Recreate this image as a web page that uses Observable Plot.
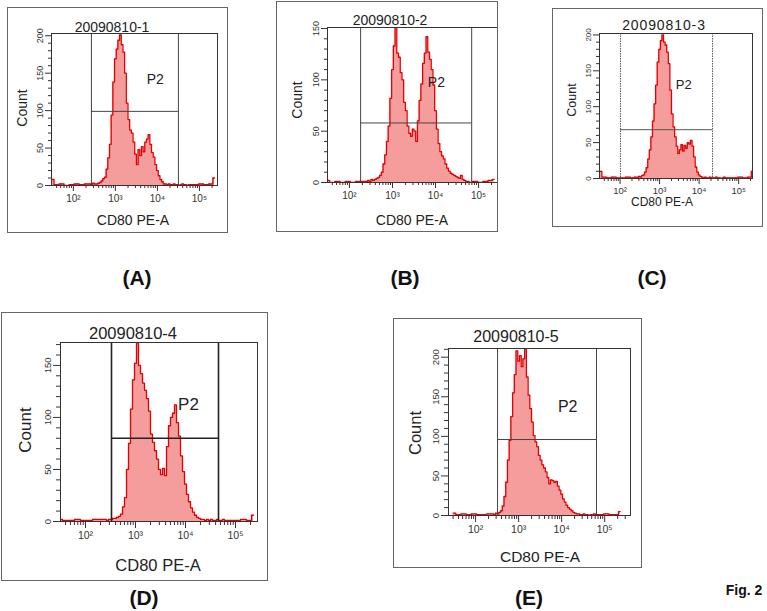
<!DOCTYPE html>
<html><head><meta charset="utf-8">
<script src="https://cdn.jsdelivr.net/npm/d3@7"></script>
<script src="https://cdn.jsdelivr.net/npm/@observablehq/plot@0.6"></script>
<style>
body{margin:0;width:767px;height:611px;position:relative;background:#fff;font-family:"Liberation Sans",Arial,sans-serif;overflow:hidden}
.box{position:absolute;box-sizing:border-box;border:1px solid #666}
.svgwrap{position:absolute}
.t{position:absolute;transform:translate(-50%,-50%);white-space:nowrap;color:#222;line-height:1}
.lbl{position:absolute;transform:translate(-50%,-50%);white-space:nowrap;font-weight:bold;color:#111;line-height:1}
</style></head><body>
<script>
// ---------- DATA ----------
// bin centres, log10 of CD80 PE-A intensity
const binExp = [1.48,1.60,1.72,1.84,1.96,2.08,2.20,2.32,
  2.40,2.44,2.48,2.52,2.56,2.60,2.64,2.68,2.72,2.76,
  2.80,2.84,2.88,2.92,2.96,3.00,3.04,3.08,3.12,3.16,
  3.20,3.24,3.28,3.32,3.36,3.40,3.44,3.48,3.52,3.56,
  3.60,3.64,3.68,3.72,3.76,3.80,3.84,3.88,3.92,3.96,
  4.00,4.04,4.08,4.12,4.16,4.20,4.24,4.28,4.32,4.36,
  4.40,4.44,4.48,4.52,4.56,4.60,4.64,4.68,4.72,4.76,
  4.80,4.92,5.04,5.16,5.28,5.36];
const countsA = [8,1,2,0,1,2,1,2,
  2,1,3,2,2,3,4,6,9,11,
  22,37,55,94,138,169,182,194,201,188,
  178,150,110,88,74,70,58,42,28,48,
  40,52,45,58,62,68,55,44,38,28,
  20,13,8,5,2,2,1,2,1,1,
  2,1,1,0,1,2,1,1,0,1,
  1,1,2,1,2,10];
const countsB = [2,0,1,0,1,0,1,1,
  1,2,1,3,2,3,4,5,7,10,
  18,27,40,55,82,110,133,152,126,122,
  107,100,78,70,55,48,45,52,50,40,
  60,80,96,116,126,142,127,120,110,95,
  70,52,38,30,26,23,18,14,11,9,
  8,7,6,5,4,7,3,2,1,1,
  0,1,0,1,2,3];
const countsC = [10,2,1,2,1,1,2,1,
  2,1,3,2,4,5,9,15,27,40,
  58,80,104,130,162,180,192,200,190,186,
  176,160,123,90,72,58,45,35,40,47,
  38,46,42,50,48,53,45,30,16,9,
  5,3,2,1,2,1,1,2,1,1,
  1,2,1,1,0,1,2,1,1,1,
  1,1,2,1,2,10];
const countsD = [2,1,1,2,1,1,2,2,
  2,1,2,2,3,3,4,5,7,14,
  23,50,75,108,136,152,172,150,142,133,
  126,118,106,84,76,68,60,50,45,51,
  44,72,92,100,104,112,95,82,63,48,
  36,26,19,13,9,6,4,3,2,2,
  1,2,1,2,1,1,2,1,1,2,
  1,1,1,2,1,6];
const countsE = [3,1,2,1,2,1,1,2,
  2,1,3,2,4,6,12,24,42,70,
  95,125,155,178,208,195,202,188,198,211,
  175,152,135,118,101,93,87,76,70,64,
  60,55,48,40,45,44,42,43,37,32,
  27,21,17,13,10,8,6,4,3,2,
  2,1,1,2,1,1,0,1,1,2,
  1,1,2,1,1,5];

const panelLetters = ["(A)","(B)","(C)","(D)","(E)"];
const sampleTitles = ["20090810-1","20090810-2","20090810-3","20090810-4","20090810-5"];
const gateName = "P2";
const xAxisName = "CD80 PE-A";
const yAxisName = "Count";
const figLabel = "Fig. 2";
const xTickValues = [1e2, 1e3, 1e4, 1e5];
const xTickLabels = ["10²","10³","10⁴","10⁵"];
const yTicksList = [[0,50,100,150,200],[0,50,100,150],[0,50,100,150,200],[0,50,100,150],[0,50,100,150,200]];
const yMaxList = [203,151,202,172,211];
const xMinExp = [1.48,1.49,1.48,1.50,1.37];
const xMaxExp = [5.43,5.44,5.35,5.44,5.60];
// P2 gate: low / high (log10) and marker count level
const gateLowExp = [2.43,2.26,2.01,2.52,2.51];
const gateHighExp = [4.50,4.84,4.34,4.66,4.81];
const gateCount = [99,58,68,80,96];
const p2Exp = [3.95,4.02,3.61,4.06,4.14];
const p2Count = [141,97,130,112,137];
const countsList = [countsA,countsB,countsC,countsD,countsE];

// ---------- LAYOUT (positions, sizes, styles) ----------
const layout = [
  {box:[7,7,228,233], plot:[51,33,217,185], title:[112,27,14,0], count:[22,108,14], xlab:[133,220,14], p2:14, tick:9, xtick:10, major:6, minor:3, gate:{stroke:"#444",w:1,dash:null}, letter:[137,277]},
  {box:[276,1,498,232], plot:[327,27,497,182], title:[390,20,14,0], count:[297,100,14], xlab:[412,220,14], p2:14, tick:9, xtick:10, major:6, minor:3, gate:{stroke:"#444",w:1,dash:null}, letter:[405,277]},
  {box:[552,8,763,227], plot:[599,33,752,178], title:[664,25,14,0.9], count:[572,100,12.5], xlab:[662,202,12], p2:13, tick:8, xtick:9.5, major:6, minor:3, gate:{stroke:"#555",w:1,dash:"1.5,1"}, letter:[652,277]},
  {box:[1,312,268,581], plot:[60,342,257,521], title:[133,333,16.5,0], count:[25,430,17], xlab:[158,565,16.5], p2:17, tick:9.5, xtick:10.5, major:7, minor:4, gate:{stroke:"#222",w:1.6,dash:null}, letter:[144,597]},
  {box:[393,318,642,568], plot:[448,348,630,515], title:[516,337,16,0], count:[415,433,16.5], xlab:[540,557,15.5], p2:16, tick:9.5, xtick:10.5, major:7, minor:4, gate:{stroke:"#444",w:1,dash:null}, letter:[529,597]}
];

function addText(cls, txt, x, y, size, extra) {
  const d = document.createElement("div");
  d.className = cls;
  d.textContent = txt;
  d.style.left = x + "px";
  d.style.top = y + "px";
  d.style.fontSize = size + "px";
  if (extra) Object.assign(d.style, extra);
  document.body.appendChild(d);
  return d;
}

layout.forEach((L, i) => {
  const [bx0, by0, bx1, by1] = L.box;
  const [px0, py0, px1, py1] = L.plot;
  const data = binExp.map((e, j) => ({v: Math.pow(10, e), c: countsList[i][j]}));
  const lo = Math.pow(10, gateLowExp[i]), hi = Math.pow(10, gateHighExp[i]);
  const x0 = Math.pow(10, xMinExp[i]), x1 = Math.pow(10, xMaxExp[i]);
  const minorX = [];
  for (let n = 1; n <= 5; n++) for (let k = 2; k <= 9; k++) { const t = k * Math.pow(10, n); if (t >= x0 && t <= x1) minorX.push(t); }
  const majorX = xTickValues.filter(t => t >= x0 && t <= x1);
  const minorY = d3.range(0, yMaxList[i] + 1, 10).filter(t => t % 50 !== 0);

  const chart = Plot.plot({
    width: bx1 - bx0, height: by1 - by0,
    marginLeft: px0 - bx0, marginTop: py0 - by0, marginRight: bx1 - px1, marginBottom: by1 - py1,
    x: {type: "log", domain: [x0, x1], label: null},
    y: {domain: [0, yMaxList[i]], label: null},
    style: {fontFamily: "Liberation Sans, Arial, sans-serif", color: "#333", background: "transparent", overflow: "visible"},
    marks: [
      Plot.areaY(data, {x: "v", y: "c", curve: "step", fill: "#f59c9c", clip: true}),
      Plot.lineY(data, {x: "v", y: "c", curve: "step", stroke: "#e40000", strokeWidth: 1.3, clip: true}),
      Plot.ruleX([lo, hi], {stroke: L.gate.stroke, strokeWidth: L.gate.w, strokeDasharray: L.gate.dash}),
      Plot.ruleY([{c: gateCount[i], a: lo, b: hi}], {y: "c", x1: "a", x2: "b", stroke: L.gate.stroke, strokeWidth: L.gate.w}),
      Plot.frame({stroke: "#333", strokeWidth: 1}),
      Plot.axisX({ticks: minorX, tickSize: L.minor, text: null, label: null, stroke: "#333"}),
      Plot.axisX({ticks: majorX, tickSize: L.major, tickPadding: 3, label: null, fontSize: L.xtick, stroke: "#333",
        tickFormat: d => xTickLabels[xTickValues.indexOf(d)]}),
      Plot.axisY({ticks: minorY, tickSize: L.minor, text: null, label: null, stroke: "#333"}),
      Plot.axisY({ticks: yTicksList[i], tickSize: L.major, tickRotate: -90, label: null, fontSize: L.tick, stroke: "#333"}),
      Plot.text([{v: Math.pow(10, p2Exp[i]), c: p2Count[i], t: gateName}], {x: "v", y: "c", text: "t", fontSize: L.p2, fill: "#222"})
    ]
  });
  const wrap = document.createElement("div");
  wrap.className = "svgwrap";
  wrap.style.left = bx0 + "px"; wrap.style.top = by0 + "px";
  wrap.appendChild(chart);
  document.body.appendChild(wrap);

  const box = document.createElement("div");
  box.className = "box";
  Object.assign(box.style, {left: bx0 + "px", top: by0 + "px", width: (bx1 - bx0) + "px", height: (by1 - by0) + "px"});
  document.body.appendChild(box);

  addText("t", sampleTitles[i], L.title[0], L.title[1], L.title[2], {letterSpacing: L.title[3] + "px"});
  addText("t", yAxisName, L.count[0], L.count[1], L.count[2], {transform: "translate(-50%,-50%) rotate(-90deg)"});
  addText("t", xAxisName, L.xlab[0], L.xlab[1], L.xlab[2]);
  addText("lbl", panelLetters[i], L.letter[0], L.letter[1], 21);
});
addText("lbl", figLabel, 744, 590, 14);
</script>
</body></html>
